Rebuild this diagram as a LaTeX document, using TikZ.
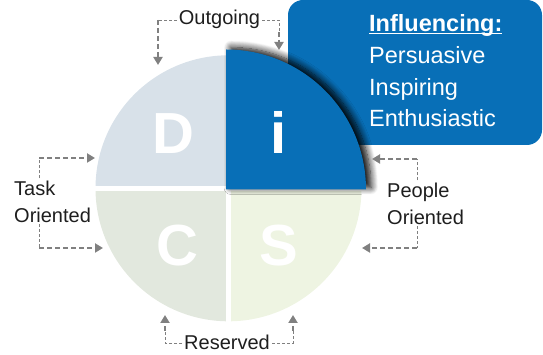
\documentclass[tikz,border=0pt]{standalone}
\usepackage{fontspec}
\setmainfont{Liberation Sans}
\usetikzlibrary{arrows.meta,calc,shadows.blur}
\definecolor{discblue}{RGB}{8,111,183}
\definecolor{dfill}{RGB}{216,225,233}
\definecolor{cfill}{RGB}{226,232,222}
\definecolor{sfill}{RGB}{238,244,226}
\definecolor{arrgray}{RGB}{128,128,128}
\definecolor{lbltxt}{RGB}{30,30,30}
% underline that sits just under the baseline, through the descenders
\newcommand{\boxhead}[1]{\setbox0\hbox{#1}\rlap{\rule[-2.6pt]{\wd0}{1.6pt}}\box0}

\begin{document}
\begin{tikzpicture}[x=1pt,y=1pt,
  lbl/.style={font=\fontsize{20}{27}\selectfont,text=lbltxt,inner sep=2pt,align=left},
  letter/.style={font=\fontsize{58}{58}\selectfont\bfseries,text=white},
  feed/.style={arrgray,line width=2.2pt,dash pattern=on 5pt off 3pt,
               -{Triangle[length=8pt,width=9pt]}},
  lead/.style={arrgray,line width=0.9pt,dash pattern=on 3pt off 2pt}
]
\useasboundingbox (0,0) rectangle (543,355);

% callout box behind the circle
\fill[discblue,rounded corners=15pt] (288,355) rectangle (542,210);
\node[font=\fontsize{23.5}{31.7}\selectfont,text=white,align=left,
      anchor=north west,inner sep=0pt] (infl) at (369,340.5)
  {\boxhead{\textbf{Influencing:}}\\Persuasive\\Inspiring\\Enthusiastic};

% four quadrants
\coordinate (c) at (228.5,166.7);
\fill[dfill] (c) -- ++(180:133pt) arc[start angle=180,end angle=90,radius=133pt] -- cycle;
\fill[cfill] (c) -- ++(180:133pt) arc[start angle=180,end angle=270,radius=133pt] -- cycle;
\fill[sfill] (c) -- ++(270:133pt) arc[start angle=270,end angle=360,radius=133pt] -- cycle;
\draw[white,line width=5pt] ($(c)+(-135,0)$) -- ($(c)+(135,0)$);
\draw[white,line width=5pt] ($(c)+(0,-135)$) -- ($(c)+(0,135)$);

% the i quadrant pops out
\coordinate (ic) at (226,165.5);
\fill[discblue,blur shadow={shadow xshift=5pt,shadow yshift=2pt,
      shadow blur radius=7pt,shadow blur steps=10,shadow opacity=100}]
  (ic) -- ++(0:140pt) arc[start angle=0,end angle=90,radius=140pt] -- cycle;

\node[letter] (dl) at (173,221) {D};
\node[letter] (il) at (279,223) {i};
\node[letter] (cl) at (177,109) {C};
\node[letter] (sl) at (279,109) {S};

% labels round the circle
\node[lbl,anchor=base] (outg) at (219.5,330) {Outgoing};
\node[lbl,anchor=north west] (task) at (12,176.6) {Task\\Oriented};
\node[lbl,anchor=north west] (ppl) at (385,174.6) {People\\Oriented};
\node[lbl,anchor=base] (resv) at (227,5) {Reserved};

% Outgoing
\coordinate (olc) at (158,335);
\coordinate (olt) at (158,290);
\coordinate (orc) at (279,335);
\coordinate (orm) at (279,323);
\coordinate (ort) at (279,305);
\draw[lead] (outg.west |- olc) -- (olc);
\draw[feed] (olc) -- (olt);
\draw[lead] (outg.east |- orc) -- (orc) -- (orm);
\draw[feed] (orm) -- (ort);

% Task oriented
\coordinate (tuc) at (39,197);
\coordinate (tut) at (95,197);
\coordinate (tlc) at (39,107);
\coordinate (tlt) at (103,107);
\draw[lead] (task.north -| tuc) -- (tuc);
\draw[feed] (tuc) -- (tut);
\draw[lead] (task.south -| tlc) -- (tlc);
\draw[feed] (tlc) -- (tlt);

% People oriented
\coordinate (puc) at (417,196);
\coordinate (put) at (372,196);
\coordinate (plc) at (417,107);
\coordinate (plt) at (362,107);
\draw[lead] (ppl.north -| puc) -- (puc);
\draw[feed] (puc) -- (put);
\draw[lead] (ppl.south -| plc) -- (plc);
\draw[feed] (plc) -- (plt);

% Reserved
\coordinate (rlc) at (165,12);
\coordinate (rlm) at (165,24);
\coordinate (rlt) at (165,40);
\coordinate (rrc) at (293,12);
\coordinate (rrm) at (293,24);
\coordinate (rrt) at (293,40);
\draw[lead] (resv.west |- rlc) -- (rlc) -- (rlm);
\draw[feed] (rlm) -- (rlt);
\draw[lead] (resv.east |- rrc) -- (rrc) -- (rrm);
\draw[feed] (rrm) -- (rrt);
\end{tikzpicture}
\end{document}
